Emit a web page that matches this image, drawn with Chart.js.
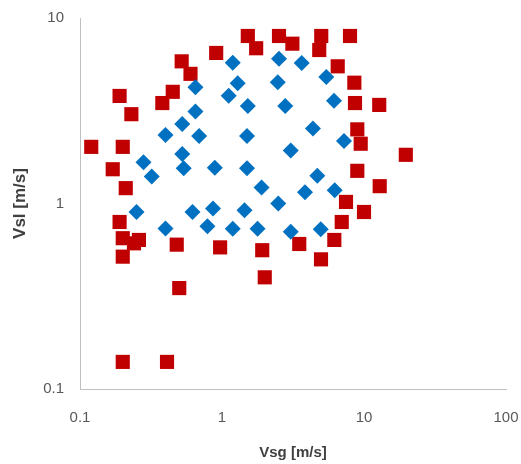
<!DOCTYPE html>
<html>
<head>
<meta charset="utf-8">
<script src="https://cdn.jsdelivr.net/npm/chart.js@4.4.1/dist/chart.umd.min.js"></script>
<style>
    body { margin: 0; background: #fff; }
    #flowChart { display: block; }
</style>
</head>
<body>
<canvas id="flowChart" width="521" height="464"></canvas>
<script>
// Superficial velocities, red squares
const vsgSquares = [0.12, 0.19, 0.23, 0.20, 0.17, 0.21, 0.38, 0.45, 0.52, 0.60, 0.91, 1.52, 1.74, 2.52, 3.13,
    5.0, 4.84, 7.97, 6.53, 8.55, 8.64, 12.8, 8.97, 9.48, 19.7, 8.97, 12.9, 7.47, 10.0, 6.97,
    6.18, 3.5, 4.98, 1.92, 2.0, 0.19, 0.20, 0.24, 0.26, 0.20, 0.48, 0.97, 0.50, 0.20, 0.41];
const vslSquares = [2.02, 3.8, 3.03, 2.02, 1.53, 1.21, 3.48, 4.0, 5.84, 5.0, 6.48, 8.0, 6.87, 8.0, 7.27,
    8.0, 6.72, 8.0, 5.49, 4.48, 3.48, 3.4, 2.51, 2.1, 1.83, 1.5, 1.24, 1.02, 0.90, 0.795,
    0.636, 0.605, 0.50, 0.56, 0.40, 0.795, 0.65, 0.61, 0.636, 0.517, 0.60, 0.58, 0.35, 0.14, 0.14];

// Superficial velocities, blue diamonds
const vsgDiamonds = [0.28, 0.32, 0.40, 0.525, 0.525, 0.537, 0.65, 0.65, 0.69, 0.89, 1.19, 1.29, 1.115, 1.52,
    1.5, 1.5, 1.9, 2.52, 2.47, 2.79, 3.05, 2.49, 3.64, 5.43, 6.15, 4.37, 7.23, 4.69, 3.84, 6.22,
    0.25, 0.62, 0.40, 0.864, 0.79, 1.44, 1.19, 1.78, 3.05, 4.96];
const vslDiamonds = [1.67, 1.4, 2.34, 2.68, 1.85, 1.55, 4.23, 3.13, 2.31, 1.56, 5.74, 4.45, 3.81, 3.35,
    2.31, 1.55, 1.22, 6.03, 4.5, 3.35, 1.93, 1.0, 5.72, 4.81, 3.58, 2.54, 2.17, 1.41, 1.15, 1.18,
    0.90, 0.90, 0.733, 0.94, 0.754, 0.92, 0.73, 0.73, 0.705, 0.726];

// Axis ticks
const xTickValues = [0.1, 1, 10, 100];
const xTickLabels = ['0.1', '1', '10', '100'];
const yTickValues = [0.1, 1, 10];
const yTickLabels = ['0.1', '1', '10'];

const toPoints = (xs, ys) => xs.map((x, i) => ({ x: x, y: ys[i] }));

document.addEventListener("DOMContentLoaded", function () {
    const ctx = document.getElementById('flowChart');
    const tickFont = { family: "'Liberation Sans', Arial, sans-serif", size: 15 };
    const titleFont = { family: "'Liberation Sans', Arial, sans-serif", size: 15, weight: 'bold' };

    new Chart(ctx.getContext('2d'), {
        type: 'scatter',
        data: {
            datasets: [{
                label: 'Diamonds',
                data: toPoints(vsgDiamonds, vslDiamonds),
                pointStyle: 'rectRot',
                pointRadius: 8,
                backgroundColor: '#0070C0',
                borderWidth: 0
            }, {
                label: 'Squares',
                data: toPoints(vsgSquares, vslSquares),
                pointStyle: 'rect',
                pointRadius: 10,
                backgroundColor: '#C00000',
                borderWidth: 0
            }]
        },
        options: {
            responsive: false,
            animation: false,
            layout: { padding: { top: 18, right: 15, bottom: 0, left: 0 } },
            plugins: {
                legend: { display: false },
                tooltip: { enabled: false }
            },
            scales: {
                x: {
                    type: 'logarithmic',
                    min: 0.1,
                    max: 100,
                    afterBuildTicks: s => { s.ticks = xTickValues.map(v => ({ value: v })); },
                    // fixed axis band, no extra room for the end labels
                    afterFit: s => { s.height = 75; s.paddingLeft = 0; s.paddingRight = 0; },
                    ticks: {
                        autoSkip: false,
                        maxRotation: 0,
                        padding: 20,
                        color: '#595959',
                        font: tickFont,
                        callback: v => xTickLabels[xTickValues.indexOf(v)]
                    },
                    grid: { display: false, drawTicks: false },
                    border: { display: true, color: '#bfbfbf', width: 1 },
                    title: {
                        display: true,
                        text: 'Vsg [m/s]',
                        color: '#404040',
                        font: titleFont,
                        padding: { top: 0, bottom: 2 }
                    }
                },
                y: {
                    type: 'logarithmic',
                    min: 0.1,
                    max: 10,
                    afterBuildTicks: s => { s.ticks = yTickValues.map(v => ({ value: v })); },
                    afterFit: s => { s.width = 80; s.paddingTop = 0; s.paddingBottom = 0; },
                    ticks: {
                        autoSkip: false,
                        padding: 16,
                        color: '#595959',
                        font: tickFont,
                        callback: v => yTickLabels[yTickValues.indexOf(v)]
                    },
                    grid: { display: false, drawTicks: false },
                    border: { display: true, color: '#bfbfbf', width: 1 },
                    title: {
                        display: true,
                        text: 'Vsl [m/s]',
                        color: '#404040',
                        font: Object.assign({}, titleFont, { size: 17 }),
                        padding: { top: 10, bottom: 0 }
                    }
                }
            }
        }
    });
});
</script>
</body>
</html>
